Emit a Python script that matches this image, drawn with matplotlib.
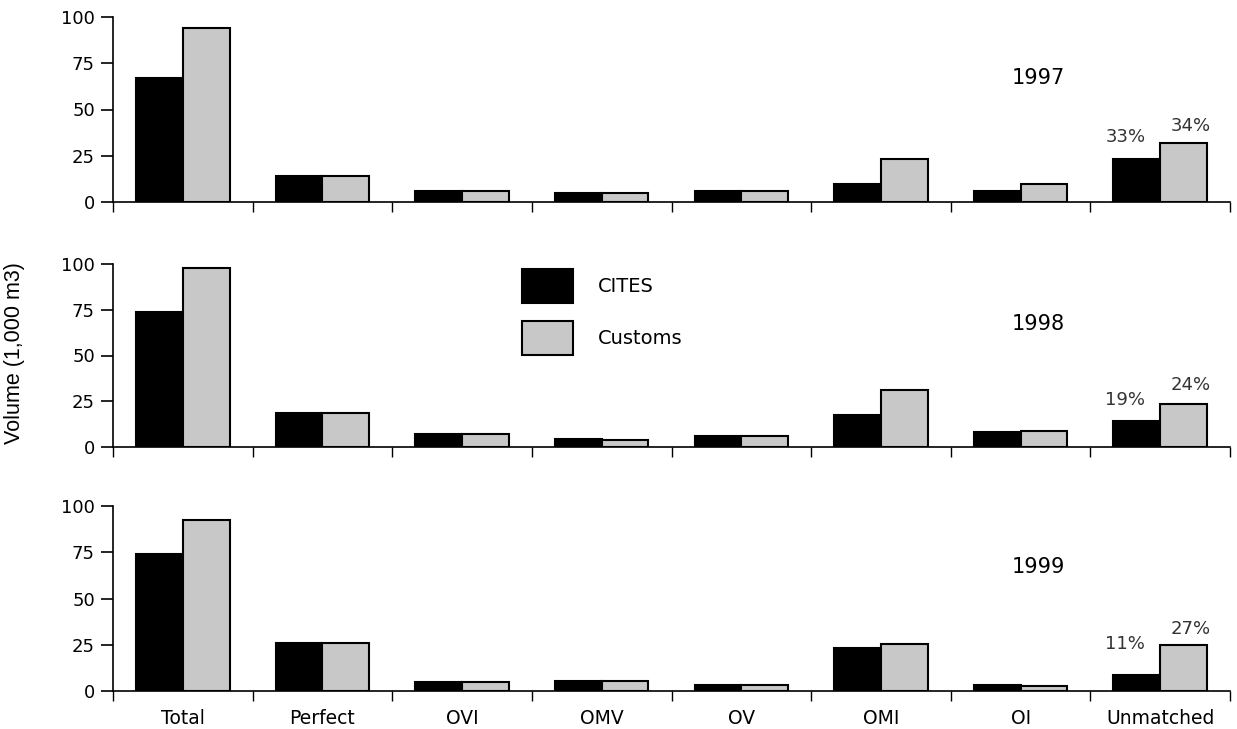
import numpy as np
import matplotlib.pyplot as plt
from matplotlib.patches import Patch

plt.rcParams['font.family'] = ['DejaVu Sans']

categories = ['Total', 'Perfect', 'OVI', 'OMV', 'OV', 'OMI', 'OI', 'Unmatched']
years = ['1997', '1998', '1999']

cites_1997 = [67, 14, 6, 5, 6, 10, 6, 23]
customs_1997 = [94, 14, 6, 5, 6, 23.5, 10, 32]
cites_1998 = [74, 18.5, 7, 4.5, 6, 17.5, 8, 14]
customs_1998 = [98, 18.5, 7, 4, 6, 31, 9, 23.5]
cites_1999 = [74, 26, 5, 5.5, 3, 23, 3.5, 8.5]
customs_1999 = [92.5, 26, 5, 5.5, 3, 25.5, 2.5, 25]

cites = [cites_1997, cites_1998, cites_1999]
customs = [customs_1997, customs_1998, customs_1999]

# unmatched share labels
pct_cites = ['33%', '19%', '11%']
pct_customs = ['34%', '24%', '27%']

GREY = '#c8c8c8'
W = 1237 / 100.0
H = 729 / 100.0

fig = plt.figure(figsize=(W, H), dpi=100)

# pixel boxes (top, bottom) of each panel
panels = [(17, 202), (264, 447), (506, 691)]
left, right = 113, 1230

x = np.arange(len(categories))
bw = 0.335
axes = []
for k, (top, bot) in enumerate(panels):
    ax = fig.add_axes([left / 1237, 1 - bot / 729, (right - left) / 1237, (bot - top) / 729])
    axes.append(ax)
    ax.bar(x + 0.165, cites[k], width=bw, align='edge', color='black',
           edgecolor='black', linewidth=1.5)
    ax.bar(x + 0.5, customs[k], width=bw, align='edge', color=GREY,
           edgecolor='black', linewidth=1.5)

    ax.set_xlim(0, len(categories))
    ax.set_ylim(0, 100)
    for s in ['top', 'right']:
        ax.spines[s].set_visible(False)
    for s in ['left', 'bottom']:
        ax.spines[s].set_linewidth(1.2)

    ax.set_yticks([0, 25, 50, 75, 100])
    ax.tick_params(axis='y', length=9, width=1.2, pad=4, labelsize=13)
    ax.set_xticks(np.arange(len(categories) + 1))
    ax.set_xticklabels([])
    ax.tick_params(axis='x', which='major', length=7, width=1.0)
    ax.set_xticks(x + 0.5, minor=True)
    ax.tick_params(axis='x', which='minor', length=0, pad=13, labelsize=13.5)
    if k == 2:
        ax.set_xticklabels(categories, minor=True)
    else:
        ax.set_xticklabels([], minor=True)

    ax.text(6.63, 67, years[k], ha='center', va='center', fontsize=15)

    # percentage labels over the unmatched bars
    yc = [35.3, 25.7, 25.4][k]
    yg = [41.3, 33.9, 33.5][k]
    ax.text(7.25, yc, pct_cites[k], ha='center', va='center', fontsize=13, color='#333333')
    ax.text(7.72, yg, pct_customs[k], ha='center', va='center', fontsize=13, color='#333333')

handles = [Patch(facecolor='black', edgecolor='black', linewidth=1.5),
           Patch(facecolor=GREY, edgecolor='black', linewidth=1.5)]
fig.legend(handles, ['CITES', 'Customs'], loc='upper left',
           bbox_to_anchor=(522 / 1237, 1 - 269 / 729), frameon=False,
           fontsize=14, handlelength=2.6, handleheight=2.3, labelspacing=0.95,
           handletextpad=1.3, borderpad=0, borderaxespad=0)

fig.text(15 / 1237, 1 - 353 / 729, 'Volume (1,000 m3)', rotation=90,
         ha='center', va='center', fontsize=15.5,
         family=['Liberation Sans', 'DejaVu Sans'])

fig.savefig('out.png', dpi=100)
